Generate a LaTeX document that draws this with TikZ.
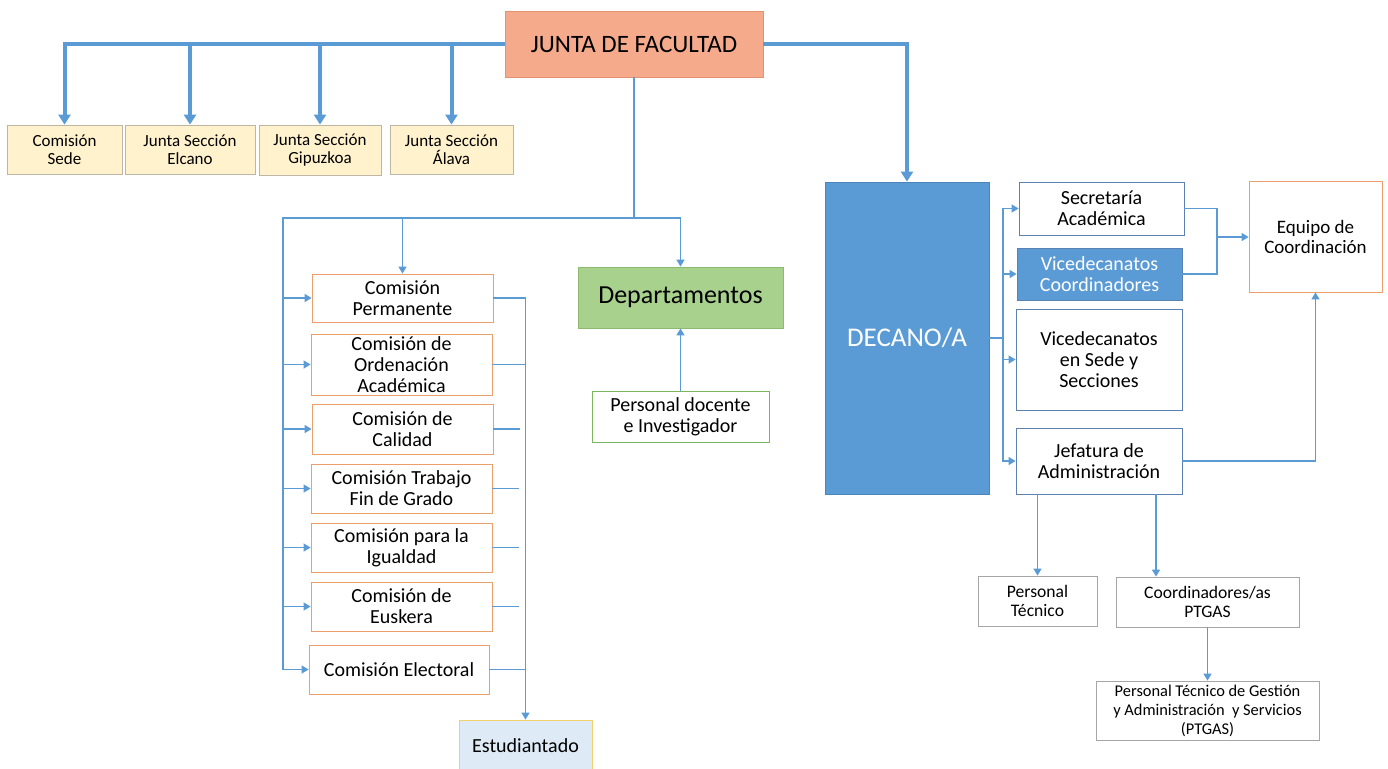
\documentclass[tikz,border=0pt]{standalone}
\usepackage{fontspec}
\setmainfont{Carlito}
\usetikzlibrary{arrows.meta}
\definecolor{linkblue}{HTML}{5B9BD5}
\definecolor{juntafill}{HTML}{F5AA8C}
\definecolor{juntaline}{HTML}{E5936E}
\definecolor{cream}{HTML}{FFF2CC}
\definecolor{tanline}{HTML}{BDB6A4}
\definecolor{comline}{HTML}{EBA06C}
\definecolor{deptfill}{HTML}{A9D18E}
\definecolor{deptline}{HTML}{8CBA6E}
\definecolor{pdiline}{HTML}{7DB45E}
\definecolor{decfill}{HTML}{5B9BD5}
\definecolor{decline}{HTML}{4A85BE}
\definecolor{paleblue}{HTML}{DEEBF7}
\definecolor{estline}{HTML}{F2D16B}
\definecolor{unitline}{HTML}{5A80B4}
\definecolor{greyline}{HTML}{A6A6A6}
\tikzset{box/.style={draw, align=center, inner sep=1pt,
    font=\fontsize{10}{10.5}\selectfont},
    topbox/.style={box, draw=tanline, fill=cream, font=\fontsize{8.5}{9}\selectfont},
    combox/.style={box, draw=comline, fill=white},
    unitbox/.style={box, draw=unitline, fill=white},
    staffbox/.style={box, draw=greyline, fill=white, font=\fontsize{8.8}{9.5}\selectfont},
    bigarrow/.style={draw=linkblue, line width=2pt, -{Triangle[width=6pt,length=5pt]}},
    linkarrow/.style={draw=linkblue, line width=0.7pt, -{Triangle[width=4pt,length=3.5pt]}},
    linkline/.style={draw=linkblue, line width=0.7pt},
    }
\begin{document}
\begin{tikzpicture}[x=0.5pt, y=-0.5pt]
\useasboundingbox (0,0) rectangle (1388,768);
% governing bodies
\node[box, draw=juntaline, fill=juntafill, minimum width=129pt, minimum height=33pt,
    font=\fontsize{12.5}{14}\selectfont] (junta) at (634,44) {JUNTA DE FACULTAD};
\node[topbox, minimum width=57.5pt, minimum height=24.5pt] (sede) at (64.5,149.5) {Comisión\\Sede};
\node[topbox, minimum width=65pt, minimum height=24.5pt] (elcano) at (190,149.5) {Junta Sección\\Elcano};
\node[topbox, minimum width=61pt, minimum height=25pt] (gipuzkoa) at (320,150) {Junta Sección\\Gipuzkoa};
\node[topbox, minimum width=61.5pt, minimum height=24.5pt] (alava) at (451.5,149.5) {Junta Sección\\Álava};
\node[box, draw=decline, fill=decfill, text=white, minimum width=82pt, minimum height=156pt,
    font=\fontsize{13.5}{15}\selectfont] (decano) at (907,338) {DECANO/A};
% comisiones
\node[combox, minimum width=90.5pt, minimum height=24pt] (perm) at (402.5,298) {Comisión\\Permanente};
\node[combox, minimum width=90.5pt, minimum height=30.5pt] (orden) at (401.5,364.5) {Comisión de\\Ordenación\\Académica};
\node[combox, minimum width=90.5pt, minimum height=25pt] (cal) at (402.5,429) {Comisión de\\Calidad};
\node[combox, minimum width=90.5pt, minimum height=24.5pt] (tfg) at (401.5,488.5) {Comisión Trabajo\\Fin de Grado};
\node[combox, minimum width=90.5pt, minimum height=24.5pt] (igual) at (401.5,547.5) {Comisión para la\\Igualdad};
\node[combox, minimum width=90.5pt, minimum height=24.5pt] (eusk) at (401.5,606.5) {Comisión de\\Euskera};
\node[combox, minimum width=90pt, minimum height=24.5pt] (elect) at (399,669.5) {Comisión Electoral};
\node[box, draw=estline, fill=paleblue, minimum width=66.5pt, minimum height=26pt] (estud) at (525.5,746) {Estudiantado};
% departamentos
\node[box, draw=deptline, fill=deptfill, minimum width=102.5pt, minimum height=30.5pt,
    font=\fontsize{13}{14}\selectfont] (dept) at (680.5,297.5) {Departamentos};
\node[box, draw=pdiline, fill=white, minimum width=88.5pt, minimum height=25.5pt] (pdi) at (680.5,416.5) {Personal docente\\e Investigador};
% equipo decanal
\node[unitbox, minimum width=82.5pt, minimum height=26.5pt] (secre) at (1101.5,208.5) {Secretaría\\Académica};
\node[box, draw=unitline, fill=decfill, text=white, minimum width=82.5pt, minimum height=26pt] (vcoord) at (1099.5,274) {Vicedecanatos\\Coordinadores};
\node[unitbox, minimum width=83pt, minimum height=50.5pt] (vsede) at (1099,359.5) {Vicedecanatos\\en Sede y\\Secciones};
\node[unitbox, minimum width=83pt, minimum height=33pt] (jefa) at (1099,461) {Jefatura de\\Administración};
\node[box, draw=comline, fill=white, minimum width=66.5pt, minimum height=55.5pt,
    font=\fontsize{9.5}{10}\selectfont] (equipo) at (1315.5,236.5) {Equipo de\\Coordinación};
\node[staffbox, minimum width=59.5pt, minimum height=25pt] (ptec) at (1037.5,601) {Personal\\Técnico};
\node[staffbox, minimum width=91.5pt, minimum height=25pt] (coordp) at (1207.5,602) {Coordinadores/as\\PTGAS};
\node[staffbox, minimum width=111.5pt, minimum height=29.5pt,
    font=\fontsize{8.2}{9.5}\selectfont] (ptgas) at (1207.5,710.5) {Personal Técnico de Gestión\\y Administración \ y Servicios\\(PTGAS)};
% thick links
\foreach \n in {sede,elcano,gipuzkoa,alava}
    \draw[bigarrow] (junta.west) -| (\n.north);
\draw[bigarrow] (junta.east) -| (decano.north);
% thin links, left side
\coordinate (split) at (634,218);
\coordinate (rail) at (283,218);
\draw[linkline] (junta.south) -- (split) -- (rail) -- (rail |- elect.west);
\draw[linkarrow] (split) -| (dept.north);
\draw[linkarrow] (split) -| (perm.north);
\foreach \n in {perm,orden,cal,tfg,igual,eusk,elect}
    \draw[linkarrow] (rail |- \n.west) -- (\n.west);
\draw[linkarrow] (perm.east) -| (estud.north);
\draw[linkline] (orden.east) -- (estud.north |- orden.east);
\draw[linkline] (elect.east) -- (estud.north |- elect.east);
\foreach \n in {cal,tfg,igual,eusk}
    \draw[linkline] (\n.east) -- ++(27,0);
\draw[linkarrow] (pdi.north) -- (dept.south);
% thin links, right side
\coordinate (drail) at (1003,338);
\coordinate (ejoin) at (1217,237);
\draw[linkline] (decano.east) -- (drail);
\foreach \n in {secre,vcoord,vsede,jefa}
    \draw[linkarrow] (drail) |- (\n.west);
\draw[linkline] (secre.east) -| (ejoin);
\draw[linkline] (vcoord.east) -| (ejoin);
\draw[linkarrow] (ejoin) -- (ejoin -| equipo.west);
\draw[linkarrow] (jefa.east) -| (equipo.south);
\draw[linkarrow] (jefa.south -| ptec.north) -- (ptec.north);
\draw[linkarrow] ([xshift=28.5pt]jefa.south) -- ([xshift=28.5pt]jefa.south |- coordp.north);
\draw[linkarrow] (coordp.south) -- (ptgas.north);
\end{tikzpicture}
\end{document}
